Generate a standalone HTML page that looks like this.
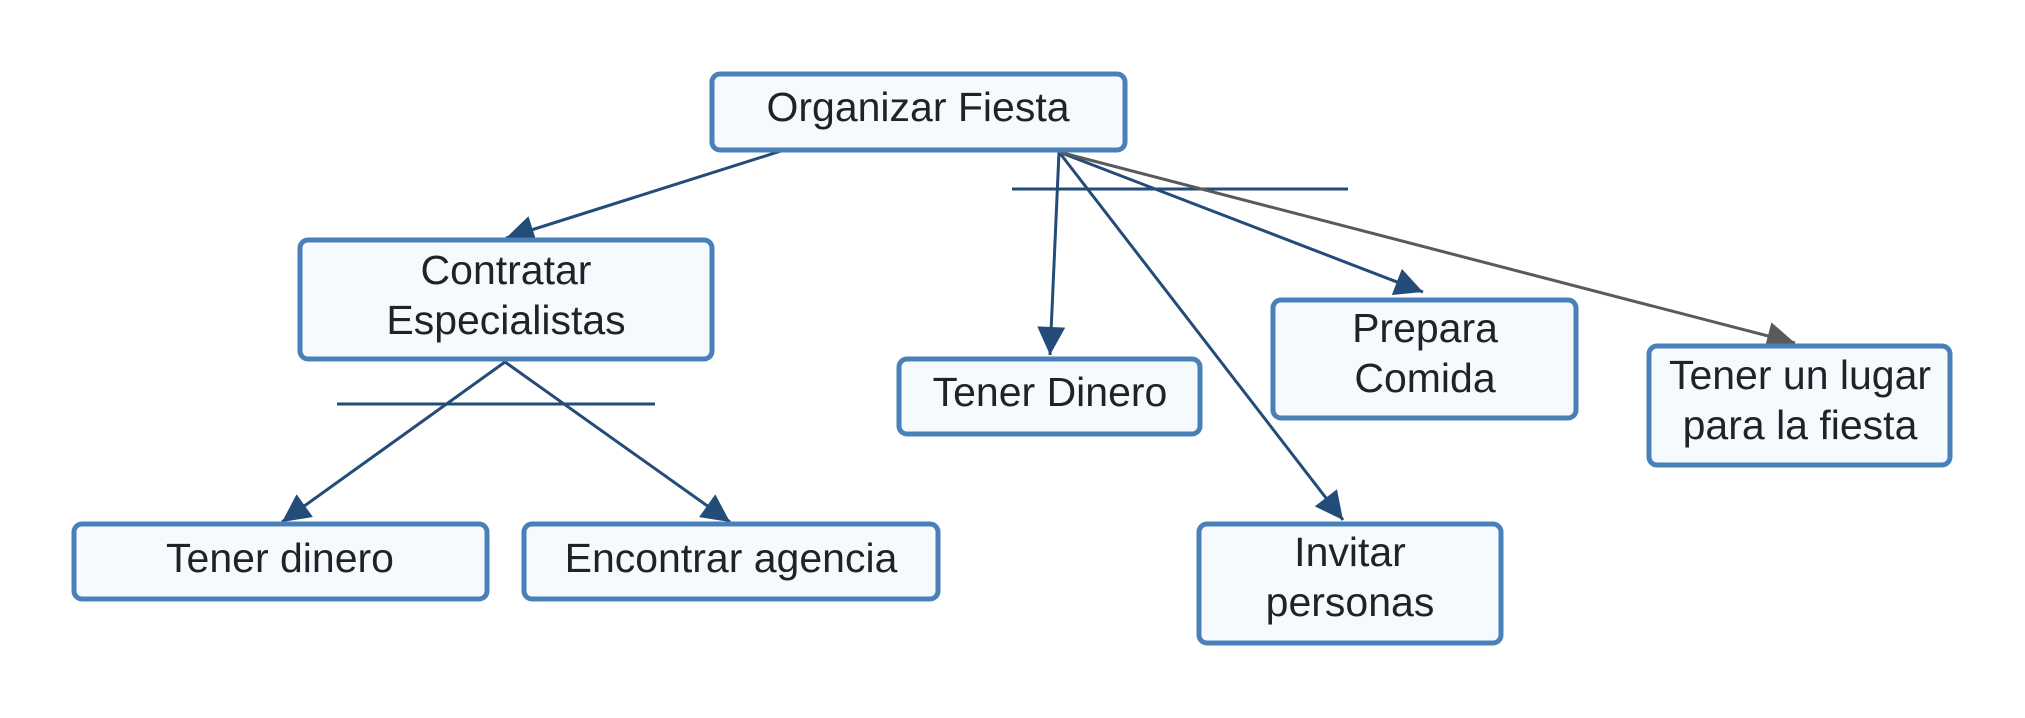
<!DOCTYPE html>
<html><head><meta charset="utf-8"><style>
html,body{margin:0;padding:0;background:#fff;}
svg{display:block;}
text{font-family:"Liberation Sans",Arial,sans-serif;font-size:41px;fill:#1f2328;text-anchor:middle;}
</style></head><body>
<svg width="2025" height="718" viewBox="0 0 2025 718" xmlns="http://www.w3.org/2000/svg">
<defs>
<marker id="a" viewBox="0 0 20 20" refX="20" refY="10" markerWidth="32" markerHeight="28" orient="auto" markerUnits="userSpaceOnUse"><path d="M0,0 L20,10 L0,20 z" fill="#234c78"/></marker>
<marker id="g" viewBox="0 0 20 20" refX="20" refY="10" markerWidth="32" markerHeight="28" orient="auto" markerUnits="userSpaceOnUse"><path d="M0,0 L20,10 L0,20 z" fill="#5a5a5a"/></marker>
</defs>
<g stroke="#234c78" stroke-width="3" fill="none">
<line x1="781" y1="151" x2="506" y2="238" marker-end="url(#a)"/>
<line x1="505" y1="362" x2="282" y2="522" marker-end="url(#a)"/>
<line x1="505" y1="362" x2="730" y2="522" marker-end="url(#a)"/>
<line x1="337" y1="404" x2="655" y2="404"/>
<line x1="1059" y1="152" x2="1050" y2="355" marker-end="url(#a)"/>
<line x1="1059" y1="152" x2="1343" y2="520" marker-end="url(#a)"/>
<line x1="1059" y1="152" x2="1423" y2="292" marker-end="url(#a)"/>
<line x1="1012" y1="189" x2="1348" y2="189"/>
</g>
<line x1="1059" y1="152" x2="1795" y2="343" stroke="#5a5a5a" stroke-width="3" marker-end="url(#g)"/>
<g fill="#f5faff" stroke="#4a80b8" stroke-width="5">
<rect x="712" y="74" width="413" height="76" rx="8"/>
<rect x="300" y="240" width="412" height="119" rx="8"/>
<rect x="74" y="524" width="413" height="75" rx="8"/>
<rect x="524" y="524" width="414" height="75" rx="8"/>
<rect x="899" y="359" width="301" height="75" rx="8"/>
<rect x="1273" y="300" width="303" height="118" rx="8"/>
<rect x="1649" y="346" width="301" height="119" rx="8"/>
<rect x="1199" y="524" width="302" height="119" rx="8"/>
</g>
<text x="918" y="121">Organizar Fiesta</text>
<text x="506" y="284">Contratar</text>
<text x="506" y="334">Especialistas</text>
<text x="280" y="572">Tener dinero</text>
<text x="731" y="572">Encontrar agencia</text>
<text x="1050" y="406">Tener Dinero</text>
<text x="1425" y="342">Prepara</text>
<text x="1425" y="392">Comida</text>
<text x="1800" y="389">Tener un lugar</text>
<text x="1800" y="439">para la fiesta</text>
<text x="1350" y="566">Invitar</text>
<text x="1350" y="616">personas</text>
</svg>
</body></html>
